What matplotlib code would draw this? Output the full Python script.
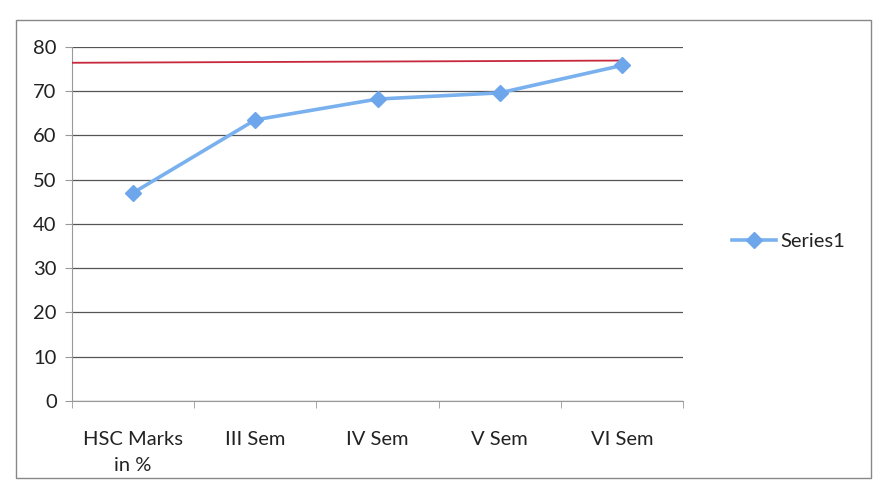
import numpy as np
import matplotlib.pyplot as plt
from matplotlib.patches import Rectangle

categories = ['HSC Marks\nin %', 'III Sem', 'IV Sem', 'V Sem', 'VI Sem']
series1 = [47.0, 63.5, 68.2, 69.6, 75.8]
red_x = [-0.5, 4.0]
red_y = [76.4, 76.9]
yticks = [0, 10, 20, 30, 40, 50, 60, 70, 80]

plt.rcParams['font.family'] = ['Lato', 'DejaVu Sans']

fig = plt.figure(figsize=(8.77, 4.93), dpi=100)
ax = fig.add_axes([0.082, 0.187, 0.697, 0.718])

x = np.arange(len(categories))
ax.plot(red_x, red_y, color='#c8283c', linewidth=1.3, zorder=3)
ax.plot(x, series1, color='#79b0ee', linewidth=2.6, marker='D',
        markersize=8.5, markerfacecolor='#6ea6ec', markeredgecolor='#6ea6ec',
        label='Series1', zorder=4)

ax.set_xlim(-0.5, len(categories) - 0.5)
ax.set_ylim(0, 80)
ax.set_yticks(yticks)
ax.set_xticks(x)
ax.set_xticklabels(categories, linespacing=1.6)
ax.set_xticks(np.arange(-0.5, len(categories)), minor=True)
ax.grid(axis='y', color='#555555', linewidth=0.9)
ax.set_axisbelow(True)

for side in ['top', 'right']:
    ax.spines[side].set_visible(False)
ax.spines['left'].set_color('#999999')
ax.spines['bottom'].set_color('#999999')
ax.tick_params(axis='y', length=5, color='#999999', labelsize=14.5, pad=6,
               labelcolor='#222222')
ax.tick_params(axis='x', which='major', length=0, labelsize=14.5, pad=22,
               labelcolor='#222222')
ax.tick_params(axis='x', which='minor', length=5, color='#999999')

leg = ax.legend(loc='center left', bbox_to_anchor=(1.05, 0.45), frameon=False,
                fontsize=14.5, handlelength=2.2, handletextpad=0.2)
for t in leg.get_texts():
    t.set_color('#222222')

fig.add_artist(Rectangle((0.018, 0.03), 0.975, 0.93, transform=fig.transFigure,
                         fill=False, edgecolor='#888888', linewidth=1))

fig.savefig('out.png', dpi=100)
